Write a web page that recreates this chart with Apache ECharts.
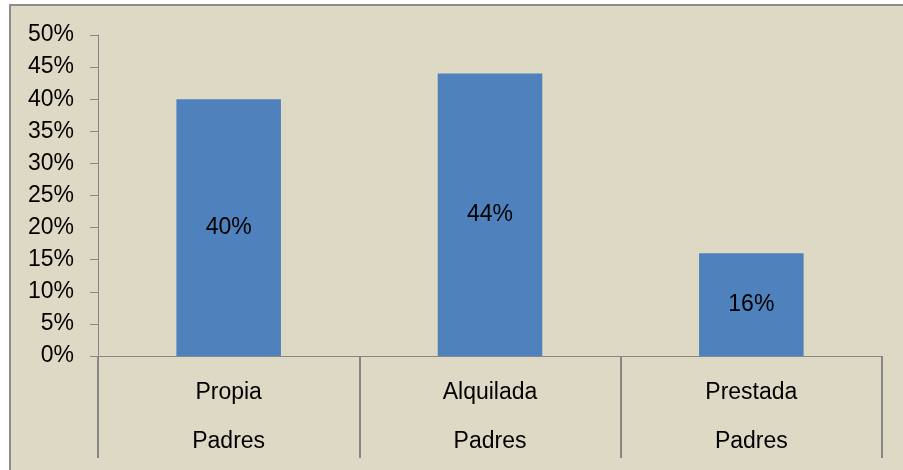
<!DOCTYPE html>
<html>
<head>
<meta charset="utf-8">
<script src="https://cdn.jsdelivr.net/npm/echarts@6/dist/echarts.min.js"></script>
<style>
  html, body { margin: 0; padding: 0; background: #fff; }
  #frame {
    position: absolute; left: 9px; top: 4px; width: 894px; height: 466px;
    border-left: 2px solid #8c8c8c; border-top: 2px solid #8c8c8c;
    background: #DDD9C4;
  }
  #box { width: 892px; height: 464px; }
</style>
</head>
<body>
<div id="frame"><div id="box"></div></div>
<script>
var categories = ['Propia', 'Alquilada', 'Prestada'];
var groups = ['Padres', 'Padres', 'Padres'];
var values = [40, 44, 16];
var yTicks = [0, 50, 5]; // min, max, step

var myChart = echarts.init(document.getElementById('box'));
var option = {
  animation: false,
  textStyle: { fontFamily: 'Liberation Sans, Arial, sans-serif' },
  grid: { left: 87, top: 29, width: 784, height: 321 },
  xAxis: {
    type: 'category',
    data: categories.map(function (c, i) { return c + '\n' + groups[i]; }),
    axisLine: { lineStyle: { color: '#868686', width: 1 } },
    axisTick: { show: true, interval: 0, alignWithLabel: false, length: 102, lineStyle: { color: '#868686', width: 2 } },
    axisLabel: { color: '#000', fontSize: 23, lineHeight: 49, margin: 12 }
  },
  yAxis: {
    type: 'value',
    min: yTicks[0], max: yTicks[1], interval: yTicks[2],
    axisLine: { show: true, lineStyle: { color: '#868686' } },
    axisTick: { show: true, length: 8, lineStyle: { color: '#868686' } },
    splitLine: { show: false },
    axisLabel: { color: '#000', fontSize: 23, margin: 24, formatter: '{value}%' }
  },
  series: [{
    type: 'bar',
    data: values,
    barWidth: '40%',
    itemStyle: { color: '#4F81BD' },
    label: { show: true, position: 'inside', color: '#000', fontSize: 23, formatter: '{c}%' }
  }]
};
myChart.setOption(option);
</script>
</body>
</html>
